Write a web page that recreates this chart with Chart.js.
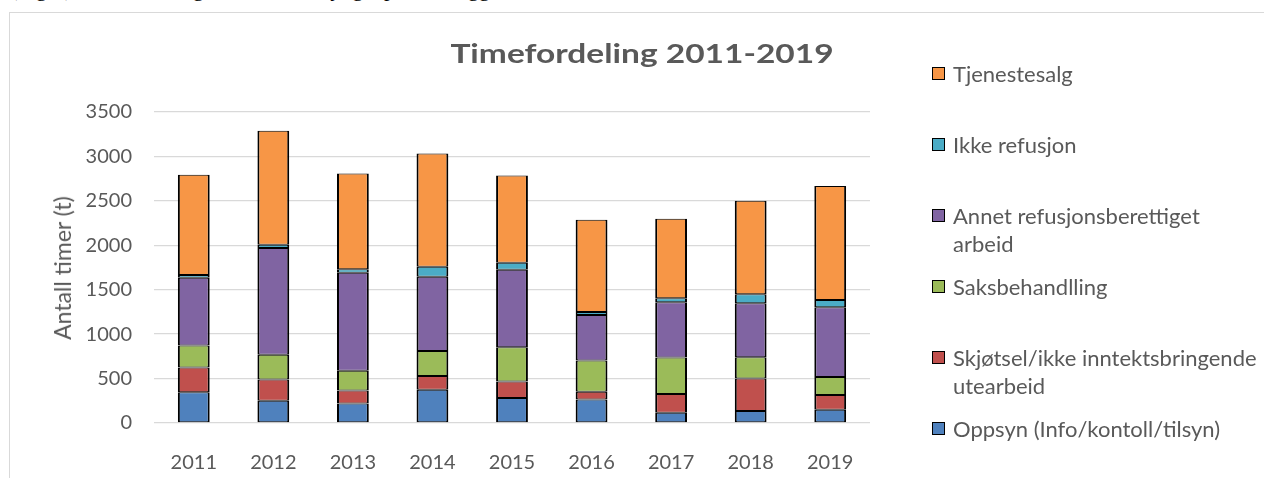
<!DOCTYPE html>
<html>
<head>
<meta charset="utf-8">
<script src="https://cdn.jsdelivr.net/npm/chart.js@4.4.1/dist/chart.umd.min.js"></script>
<style>
  html, body { margin: 0; padding: 0; background: #fff; }
  body { width: 1264px; height: 478px; position: relative; overflow: hidden; font-family: Lato, "Open Sans", sans-serif; }
  #topline { position: absolute; left: 10px; top: -24px; font-family: "Liberation Serif", serif; font-size: 22px; color: #000; white-space: nowrap; }
  #frame { position: absolute; left: 9px; top: 12px; width: 1400px; height: 600px; border-left: 1px solid #d9d9d9; border-top: 1px solid #d9d9d9; background: #fff; }
  #wrap { position: absolute; left: 0; top: 0; width: 1264px; height: 478px; }
  #title { position: absolute; left: 642px; top: 36px; font-family: Lato, sans-serif; font-weight: bold; font-size: 27px; color: #595959; white-space: nowrap; transform: translateX(-50%) scaleX(1.24); transform-origin: center; }
  #ytitle { position: absolute; left: 62px; top: 268px; font-family: Lato, sans-serif; font-size: 23px; color: #595959; white-space: nowrap; transform: translate(-50%, -50%) rotate(-90deg); }
  .lg { position: absolute; left: 932px; font-family: Lato, sans-serif; font-size: 22px; line-height: 28px; color: #595959; white-space: nowrap; }
  .lg .sw { position: absolute; left: 0; width: 11px; height: 11px; border: 1.5px solid #000; }
  .lg .tx { position: absolute; left: 21px; top: 0; }
</style>
</head>
<body>
<div id="topline">(Figur) Timefordelingen viser hvor tyngdepunktet ligger i arbeidet.</div>
<div id="frame"></div>
<div id="wrap"><canvas id="c" width="1264" height="478"></canvas></div>
<div id="title">Timefordeling 2011-2019</div>
<div id="ytitle">Antall timer (t)</div>
<div id="legend"></div>
<script>
const categories = ["2011", "2012", "2013", "2014", "2015", "2016", "2017", "2018", "2019"];
const oppsyn = [345, 250, 220, 374, 281, 265, 116, 135, 149];
const skjotsel = [280, 240, 146, 154, 186, 87, 210, 366, 165];
const saksbehandling = [247, 277, 221, 281, 386, 351, 411, 240, 203];
const annetRefusjon = [764, 1202, 1104, 837, 872, 513, 622, 607, 786];
const ikkeRefusjon = [30, 37, 38, 113, 79, 34, 45, 101, 82];
const tjenestesalg = [1127, 1284, 1079, 1273, 981, 1036, 894, 1051, 1283];
const yTicks = [0, 500, 1000, 1500, 2000, 2500, 3000, 3500];

const seriesNames = [
  "Oppsyn (Info/kontoll/tilsyn)",
  "Skjøtsel/ikke inntektsbringende utearbeid",
  "Saksbehandlling",
  "Annet refusjonsberettiget arbeid",
  "Ikke refusjon",
  "Tjenestesalg"
];
const seriesData = [oppsyn, skjotsel, saksbehandling, annetRefusjon, ikkeRefusjon, tjenestesalg];
const seriesColors = ["#4F81BD", "#C0504D", "#9BBB59", "#8064A2", "#4BACC6", "#F79646"];

const datasets = seriesNames.map((n, i) => ({
  label: n,
  data: seriesData[i],
  backgroundColor: seriesColors[i],
  borderColor: "#000",
  borderWidth: { left: 2, right: 2, top: 1, bottom: 1 },
  borderSkipped: false,
  categoryPercentage: 1,
  barPercentage: 0.4
}));

new Chart(document.getElementById("c"), {
  type: "bar",
  data: { labels: categories, datasets },
  options: {
    responsive: false,
    animation: false,
    devicePixelRatio: 1,
    layout: { padding: { left: 0, right: 394, top: 112, bottom: 0 } },
    plugins: { legend: { display: false }, title: { display: false }, tooltip: { enabled: false } },
    scales: {
      x: {
        stacked: true,
        grid: { display: false },
        border: { display: false },
        ticks: { color: "#595959", font: { family: "Lato", size: 20 }, padding: 20, maxRotation: 0 },
        afterFit: s => { s.height = 55; }
      },
      y: {
        stacked: true,
        min: 0,
        max: 3500,
        afterBuildTicks: s => { s.ticks = yTicks.map(v => ({ value: v })); },
        grid: { color: "#d9d9d9", lineWidth: 1.3, drawTicks: false },
        border: { display: false },
        ticks: { color: "#595959", font: { family: "Lato", size: 20 }, padding: 22, callback: v => String(v) },
        afterFit: s => { s.width = 154; }
      }
    }
  }
});

// legend (top-to-bottom order as in the original)
const legendItems = [
  { i: 5, lines: ["Tjenestesalg"], y: 74 },
  { i: 4, lines: ["Ikke refusjon"], y: 145 },
  { i: 3, lines: ["Annet refusjonsberettiget", "arbeid"], y: 216 },
  { i: 2, lines: ["Saksbehandlling"], y: 287 },
  { i: 1, lines: ["Skjøtsel/ikke inntektsbringende", "utearbeid"], y: 358 },
  { i: 0, lines: ["Oppsyn (Info/kontoll/tilsyn)"], y: 429 }
];
const lg = document.getElementById("legend");
legendItems.forEach(it => {
  const d = document.createElement("div");
  d.className = "lg";
  d.style.top = (it.y - 14) + "px";
  const sw = document.createElement("div");
  sw.className = "sw";
  sw.style.background = seriesColors[it.i];
  sw.style.top = "7px";
  d.appendChild(sw);
  const tx = document.createElement("div");
  tx.className = "tx";
  tx.innerHTML = it.lines.join("<br>");
  d.appendChild(tx);
  lg.appendChild(d);
});
</script>
</body>
</html>
